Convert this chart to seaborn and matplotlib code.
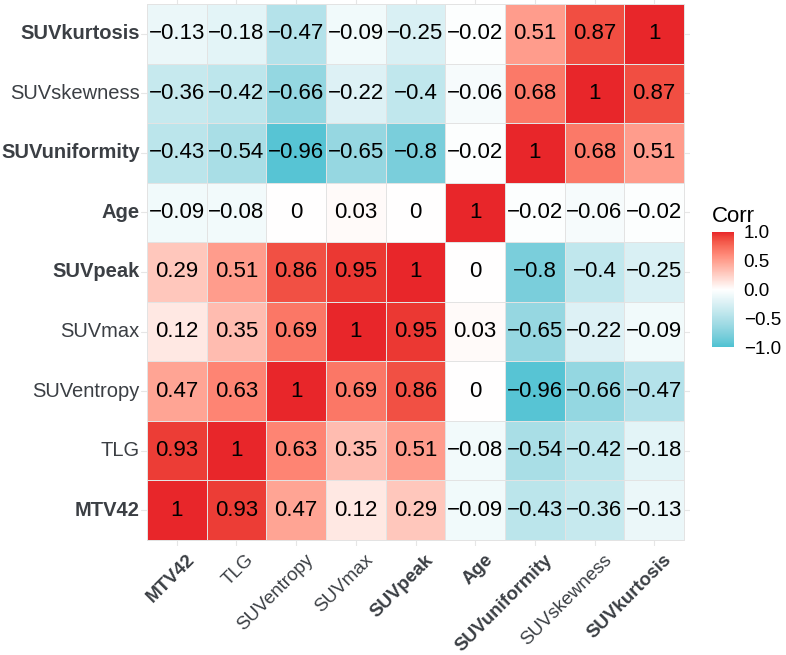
import numpy as np
import pandas as pd
import seaborn as sns
import matplotlib
matplotlib.use("Agg")
import matplotlib.pyplot as plt
from matplotlib.colors import ListedColormap, to_rgb
from matplotlib.transforms import ScaledTranslation

labels = ["MTV42", "TLG", "SUVentropy", "SUVmax", "SUVpeak", "Age",
          "SUVuniformity", "SUVskewness", "SUVkurtosis"]
bold_labels = ["MTV42", "SUVpeak", "Age", "SUVuniformity", "SUVkurtosis"]

MTV42 = [1, 0.93, 0.47, 0.12, 0.29, -0.09, -0.43, -0.36, -0.13]
TLG = [0.93, 1, 0.63, 0.35, 0.51, -0.08, -0.54, -0.42, -0.18]
SUVentropy = [0.47, 0.63, 1, 0.69, 0.86, 0, -0.96, -0.66, -0.47]
SUVmax = [0.12, 0.35, 0.69, 1, 0.95, 0.03, -0.65, -0.22, -0.09]
SUVpeak = [0.29, 0.51, 0.86, 0.95, 1, 0, -0.8, -0.4, -0.25]
Age = [-0.09, -0.08, 0, 0.03, 0, 1, -0.02, -0.06, -0.02]
SUVuniformity = [-0.43, -0.54, -0.96, -0.65, -0.8, -0.02, 1, 0.68, 0.51]
SUVskewness = [-0.36, -0.42, -0.66, -0.22, -0.4, -0.06, 0.68, 1, 0.87]
SUVkurtosis = [-0.13, -0.18, -0.47, -0.09, -0.25, -0.02, 0.51, 0.87, 1]

rows = [MTV42, TLG, SUVentropy, SUVmax, SUVpeak, Age, SUVuniformity,
        SUVskewness, SUVkurtosis]
df = pd.DataFrame(rows, index=labels, columns=labels)
df_disp = df.iloc[::-1]
annot = df_disp.map(lambda v: f"{v:g}".replace("-", "\u2212"))


# --- Lab-space gradient (like ggplot's scale_fill_gradient2) ---
def srgb_to_lab(c):
    c = np.asarray(c, float)
    lin = np.where(c <= 0.04045, c / 12.92, ((c + 0.055) / 1.055) ** 2.4)
    M = np.array([[0.4124, 0.3576, 0.1805],
                  [0.2126, 0.7152, 0.0722],
                  [0.0193, 0.1192, 0.9505]])
    xyz = M @ lin / np.array([0.95047, 1.0, 1.08883])
    f = np.where(xyz > 0.008856, np.cbrt(xyz), 7.787 * xyz + 16 / 116)
    return np.array([116 * f[1] - 16, 500 * (f[0] - f[1]), 200 * (f[1] - f[2])])


def lab_to_srgb(lab):
    L, a, b = lab
    fy = (L + 16) / 116
    fx = fy + a / 500
    fz = fy - b / 200
    f = np.array([fx, fy, fz])
    xyz = np.where(f ** 3 > 0.008856, f ** 3, (f - 16 / 116) / 7.787)
    xyz = xyz * np.array([0.95047, 1.0, 1.08883])
    Minv = np.array([[3.2406, -1.5372, -0.4986],
                     [-0.9689, 1.8758, 0.0415],
                     [0.0557, -0.2040, 1.0570]])
    lin = Minv @ xyz
    lin = np.clip(lin, 0, 1)
    c = np.where(lin <= 0.0031308, 12.92 * lin, 1.055 * lin ** (1 / 2.4) - 0.055)
    return np.clip(c, 0, 1)


low_c, mid_c, high_c = "#4DC2D2", "#FFFFFF", "#E8262A"
lab_lo, lab_mid, lab_hi = (srgb_to_lab(to_rgb(c)) for c in (low_c, mid_c, high_c))
cols = []
for t in np.linspace(-1, 1, 256):
    if t < 0:
        lab = lab_mid + (-t) * (lab_lo - lab_mid)
    else:
        lab = lab_mid + t * (lab_hi - lab_mid)
    cols.append(lab_to_srgb(lab))
cmap = ListedColormap(cols)

sns.set_theme(style="white")
plt.rcParams["font.family"] = ["Liberation Sans", "DejaVu Sans"]

W, H = 786, 655
fig = plt.figure(figsize=(W / 100, H / 100), dpi=100)
pad = 0.1 * 59.7
x0, x1 = 147 - pad, 684 + pad
y0, y1 = 4 - pad, 540 + pad
ax = fig.add_axes([x0 / W, 1 - y1 / H, (x1 - x0) / W, (y1 - y0) / H])
cax = fig.add_axes([712 / W, 1 - 347 / H, 22 / W, 115 / H])

sns.heatmap(df_disp, ax=ax, cbar_ax=cax, cmap=cmap, vmin=-1, vmax=1,
            annot=annot, fmt="", annot_kws={"size": 16, "color": "black"},
            linewidths=0.6, linecolor="#E3E3E3", square=False)

ax.set_xlim(-0.1, 9.1)
ax.set_ylim(9.1, -0.1)
ax.set_xticks(np.arange(9) + 0.5)
ax.set_yticks(np.arange(9) + 0.5)
ax.set_axisbelow(True)
ax.grid(True, color="#E6E6E6", linewidth=0.8, zorder=0)
for s in ax.spines.values():
    s.set_visible(False)
ax.tick_params(axis="y", length=0, pad=1)
ax.tick_params(axis="x", length=0, pad=4)
ax.set_xlabel("")
ax.set_ylabel("")

ax.set_xticklabels(labels, rotation=45, ha="right", rotation_mode="anchor",
                   fontsize=13.5, color="#3B3F44")
ax.set_yticklabels(list(df_disp.index), rotation=0, fontsize=14.5, color="#3B3F44")
shift = ScaledTranslation(9 / 100, 0, fig.dpi_scale_trans)
for t in ax.get_xticklabels():
    t.set_transform(t.get_transform() + shift)
for t in ax.get_xticklabels() + ax.get_yticklabels():
    if t.get_text() in bold_labels:
        t.set_fontweight("bold")

cb = ax.collections[0].colorbar
cb.outline.set_visible(False)
cb.set_ticks([-1, -0.5, 0, 0.5, 1])
cb.set_ticklabels(["\u22121.0", "\u22120.5", "0.0", "0.5", "1.0"])
cax.tick_params(direction="in", length=4, color="white", width=0.8,
                labelsize=13.5, labelcolor="black", pad=7)
cax.set_title("Corr", fontsize=16, loc="left", pad=7, color="black")

fig.savefig("out.png", dpi=100, facecolor="white")
